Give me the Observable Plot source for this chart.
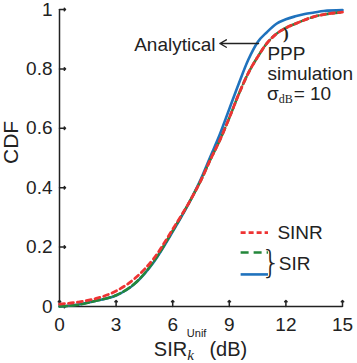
<!DOCTYPE html>
<html><head><meta charset="utf-8">
<script src="https://cdn.jsdelivr.net/npm/d3@7"></script>
<script src="https://cdn.jsdelivr.net/npm/@observablehq/plot@0.6"></script>
<style>body{margin:0;background:#fff}</style>
</head><body><div id="chart"></div>
<script>
// SIR / SINR in dB
const sirDb = [0,1,2,3,4,5,6,7,7.5,8,8.5,9,9.5,10,10.5,11,11.5,12,12.5,13,13.5,14,15];
// Analytical SIR CDF (blue, solid)
const cdfSirAnalytical = [0,0.007,0.02,0.037,0.077,0.15,0.252,0.365,0.43,0.505,0.58,0.665,0.75,0.83,0.89,0.924,0.952,0.967,0.977,0.985,0.99,0.995,0.998];
// PPP simulation SIR CDF (green, dashed)
const cdfSirSim = [0,0.006,0.02,0.038,0.078,0.152,0.255,0.365,0.425,0.495,0.56,0.635,0.715,0.785,0.84,0.887,0.918,0.938,0.952,0.965,0.976,0.983,0.991];
// PPP simulation SINR CDF (red, dotted)
const cdfSinrSim = [0.008,0.015,0.028,0.052,0.095,0.162,0.26,0.365,0.425,0.495,0.56,0.635,0.715,0.785,0.84,0.887,0.918,0.938,0.952,0.965,0.976,0.983,0.991];
const xTicks = [0,3,6,9,12,15];
const yTicks = [0,0.2,0.4,0.6,0.8,1];
const legendLabels = ["SINR","SIR"];

const BLUE = "#1f72bd", GREEN = "#23873a", RED = "#ee3333", INK = "#222";
const FONT = "'Liberation Sans', Arial, Helvetica, sans-serif";
const SERIF = "'Liberation Serif', 'Times New Roman', serif";

const rows = (ys) => sirDb.map((x, i) => ({x, y: ys[i]}));

const plot = Plot.plot({
  width: 357, height: 363,
  marginLeft: 59, marginRight: 15, marginTop: 9, marginBottom: 57,
  x: {domain: [0, 15]},
  y: {domain: [0, 1]},
  style: {fontFamily: FONT, color: INK, background: "#fff"},
  marks: [
    Plot.axisX(xTicks, {tickSize: 0, tickPadding: 11, fontSize: 19, label: null}),
    Plot.axisY(yTicks, {tickSize: 0, tickPadding: 7, fontSize: 19, label: null, tickFormat: d => String(d)}),
    Plot.vector(xTicks, {x: d => d, frameAnchor: "bottom", length: 6, rotate: 0, anchor: "start", stroke: INK, strokeWidth: 1.5}),
    Plot.vector(yTicks, {y: d => d, frameAnchor: "left", length: 6, rotate: 90, anchor: "start", stroke: INK, strokeWidth: 1.5}),
    Plot.ruleX([0], {stroke: INK, strokeWidth: 1.5}),
    Plot.ruleY([0], {stroke: INK, strokeWidth: 1.5}),
    Plot.text(["CDF"], {frameAnchor: "left", rotate: -90, dx: -48, dy: 6, fontSize: 21, fill: INK}),
    // curves
    Plot.line(rows(cdfSirAnalytical), {x: "x", y: "y", stroke: BLUE, strokeWidth: 2.6, curve: "monotone-x"}),
    Plot.line(rows(cdfSirSim), {x: "x", y: "y", stroke: GREEN, strokeWidth: 2.6, strokeDasharray: "8,3", curve: "monotone-x"}),
    Plot.line(rows(cdfSinrSim), {x: "x", y: "y", stroke: RED, strokeWidth: 2.8, strokeDasharray: "5,4", curve: "monotone-x"}),
    // annotations
    Plot.text(["Analytical"], {x: 8.27, y: 0.882, textAnchor: "end", fontSize: 19, fill: INK}),
    Plot.arrow([0], {x1: 10.55, y1: 0.8855, x2: 8.5, y2: 0.8855, stroke: INK, strokeWidth: 1.4, headLength: 8}),
    Plot.text([")"], {x: 12.0, y: 0.918, fontSize: 17, fontWeight: "bold", fontFamily: SERIF, fill: INK}),
    Plot.text(["PPP"], {x: 11.02, y: 0.83, textAnchor: "start", lineAnchor: "bottom", fontSize: 19, fill: INK}),
    Plot.text(["simulation"], {x: 11.02, y: 0.764, textAnchor: "start", lineAnchor: "bottom", fontSize: 19, fill: INK}),
    // legend
    Plot.link([0], {x1: 9.6, x2: 11.05, y1: 0.249, y2: 0.249, stroke: RED, strokeWidth: 2.8, strokeDasharray: "5,3"}),
    Plot.link([0], {x1: 9.6, x2: 11.05, y1: 0.182, y2: 0.182, stroke: GREEN, strokeWidth: 2.6, strokeDasharray: "8,5"}),
    Plot.link([0], {x1: 9.6, x2: 11.05, y1: 0.108, y2: 0.108, stroke: BLUE, strokeWidth: 2.6}),
    Plot.text([legendLabels[0]], {x: 11.55, y: 0.249, textAnchor: "start", fontSize: 19, fill: INK}),
    Plot.text(["}"], {x: 11.2, y: 0.148, fontSize: 32, fontWeight: 200, fontFamily: "'DejaVu Sans', sans-serif", fill: INK}),
    Plot.text([legendLabels[1]], {x: 11.62, y: 0.145, textAnchor: "start", fontSize: 19, fill: INK})
  ]
});
document.getElementById("chart").appendChild(plot);

// rich-text labels (sub/superscripts) positioned from Plot's scales
const sx = plot.scale("x"), sy = plot.scale("y");
const svg = d3.select(plot);
const cx = (sx.apply(0) + sx.apply(15)) / 2;
const xl = svg.append("text")
  .attr("x", cx).attr("y", 356).attr("text-anchor", "middle")
  .attr("fill", INK).attr("font-family", FONT).attr("font-size", 20);
xl.append("tspan").text("SIR");
xl.append("tspan").attr("dy", 4).attr("font-family", SERIF).attr("font-style", "italic").attr("font-size", 15).text("k");
xl.append("tspan").attr("dx", -7).attr("dy", -23).attr("font-size", 11).text("Unif");
xl.append("tspan").attr("dx", 3).attr("dy", 19).text("(dB)");

const sg = svg.append("text")
  .attr("x", sx.apply(11.02)).attr("y", sy.apply(0.695)).attr("text-anchor", "start")
  .attr("fill", INK).attr("font-family", FONT).attr("font-size", 19);
sg.append("tspan").text("σ");
sg.append("tspan").attr("dy", 3).attr("font-family", SERIF).attr("font-size", 12).text("dB");
sg.append("tspan").attr("dy", -3).attr("dx", 1).text("= 10");
</script>
</body></html>
